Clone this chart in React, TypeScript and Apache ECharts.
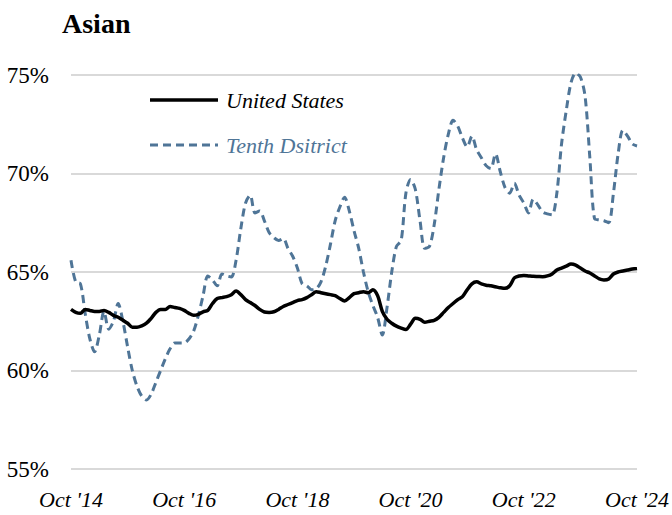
import React, { useEffect, useRef } from "react";
import * as echarts from "echarts";

const startYear = 2014;
const startMonth = 9; // October (0-based)
const tickLabels = ["Oct '14", "Oct '16", "Oct '18", "Oct '20", "Oct '22", "Oct '24"];

const unitedStates = [
  63.1, 62.95, 62.9, 63.1, 63.05, 63.0, 63.0, 63.05, 62.95, 62.8,
  62.7, 62.55, 62.4, 62.2, 62.2, 62.27, 62.4, 62.65, 62.95, 63.1,
  63.1, 63.25, 63.2, 63.15, 63.05, 62.9, 62.8, 62.85, 62.98, 63.05,
  63.4, 63.65, 63.7, 63.75, 63.85, 64.03, 63.85, 63.6, 63.45, 63.3,
  63.1, 62.97, 62.95, 62.98, 63.1, 63.25, 63.35, 63.45, 63.55, 63.6,
  63.7, 63.85, 64.0, 63.95, 63.9, 63.85, 63.8, 63.65, 63.53, 63.7,
  63.9, 63.95, 64.0, 63.95, 64.1, 63.8, 63.0, 62.6, 62.4, 62.25,
  62.15, 62.08, 62.35, 62.65, 62.6, 62.45, 62.5, 62.55, 62.7, 62.95,
  63.2, 63.4, 63.6, 63.75, 64.1, 64.4, 64.5, 64.4, 64.33, 64.3,
  64.25, 64.2, 64.17, 64.3, 64.7, 64.8, 64.82, 64.8, 64.78, 64.77,
  64.76, 64.8, 64.9, 65.1, 65.2, 65.3, 65.4, 65.35, 65.2, 65.05,
  64.95, 64.8, 64.65, 64.6, 64.65, 64.9, 65.0, 65.05, 65.1, 65.15,
  65.18,
];

const tenthDistrict = [
  65.6, 64.5, 64.4, 62.9, 61.6, 60.95, 61.8, 63.0, 62.1, 62.5,
  63.4, 62.5, 61.2, 60.0, 59.2, 58.7, 58.5, 58.8, 59.4, 60.0,
  60.6, 61.1, 61.4, 61.4, 61.4, 61.6, 62.0, 62.8, 63.8, 64.8,
  64.6, 64.3, 64.9, 64.8, 64.75, 65.6, 67.2, 68.5, 68.9, 68.0,
  68.1, 67.6, 67.0, 66.75, 66.6, 66.7, 66.2, 65.8, 65.2, 64.4,
  64.3, 64.1, 64.15, 64.5, 65.3, 66.4, 67.6, 68.3, 68.8, 68.1,
  67.1, 66.2, 65.0, 64.0, 63.3, 62.7, 61.8, 63.2, 65.0, 66.3,
  66.6, 69.0, 69.7, 69.2, 67.6, 66.2, 66.3, 67.4, 69.2, 70.8,
  72.0, 72.7, 72.4, 71.8, 71.35, 71.9, 71.2, 70.8, 70.4, 70.25,
  71.0, 70.1, 69.3, 69.0, 69.5, 68.9, 68.5, 68.0, 68.7, 68.4,
  68.05, 67.95, 67.9, 69.0, 71.5, 73.2, 74.6, 75.1, 74.9, 73.9,
  70.8, 67.7, 67.65, 67.6, 67.5, 69.0, 71.0, 72.2, 71.9, 71.5,
  71.4,
];

const monthNames = ["Jan", "Feb", "Mar", "Apr", "May", "Jun", "Jul", "Aug", "Sep", "Oct", "Nov", "Dec"];
const categories = unitedStates.map((_, i) => {
  const t = startMonth + i;
  const y = startYear + Math.floor(t / 12);
  return `${monthNames[t % 12]} '${String(y % 100).padStart(2, "0")}`;
});

const SERIF = "'Liberation Serif', 'DejaVu Serif', serif";
const BLACK = "#000000";
const BLUE = "#4f7597";

export default function App() {
  const ref = useRef<HTMLDivElement>(null);
  useEffect(() => {
    if (!ref.current) return;
    const chart = echarts.init(ref.current, null, { renderer: "svg" });
    chart.setOption({
      animation: false,
      backgroundColor: "#ffffff",
      title: {
        text: "Asian",
        left: 57,
        top: 4,
        textStyle: { fontFamily: SERIF, fontSize: 28, fontWeight: "bold", color: "#000" },
      },
      grid: { left: 71, right: 31, top: 75, bottom: 46, containLabel: false },
      xAxis: {
        type: "category",
        data: categories,
        boundaryGap: false,
        axisLine: { show: false },
        axisTick: { show: false },
        splitLine: { show: false },
        axisLabel: {
          interval: 23,
          margin: 19,
          fontFamily: SERIF,
          fontStyle: "italic",
          fontSize: 22,
          color: "#000",
          formatter: (v: string) => (tickLabels.includes(v) ? v : ""),
        },
      },
      yAxis: {
        type: "value",
        min: 55,
        max: 75,
        interval: 5,
        axisLine: { show: false },
        axisTick: { show: false },
        splitLine: { lineStyle: { color: "#d9d9d9", width: 2 } },
        axisLabel: {
          margin: 22,
          fontFamily: SERIF,
          fontSize: 23,
          color: "#000",
          formatter: (v: number) => `${v}%`,
        },
      },
      series: [
        {
          name: "United States",
          type: "line",
          data: unitedStates,
          showSymbol: false,
          smooth: 0.3,
          lineStyle: { color: BLACK, width: 3.5 },
          z: 3,
        },
        {
          name: "Tenth Dsitrict",
          type: "line",
          data: tenthDistrict,
          showSymbol: false,
          smooth: 0.3,
          lineStyle: { color: BLUE, width: 3, type: [8, 5] },
          z: 2,
        },
      ],
      graphic: [
        {
          type: "line",
          shape: { x1: 150, y1: 100, x2: 218, y2: 100 },
          style: { stroke: BLACK, lineWidth: 3.5 },
        },
        {
          type: "text",
          x: 226,
          y: 100,
          style: {
            text: "United States",
            fontFamily: SERIF,
            fontStyle: "italic",
            fontSize: 22,
            fill: "#000",
            verticalAlign: "middle",
          },
        },
        {
          type: "line",
          shape: { x1: 150, y1: 145, x2: 218, y2: 145 },
          style: { stroke: BLUE, lineWidth: 3, lineDash: [8, 5] },
        },
        {
          type: "text",
          x: 226,
          y: 145,
          style: {
            text: "Tenth Dsitrict",
            fontFamily: SERIF,
            fontStyle: "italic",
            fontSize: 22,
            fill: BLUE,
            verticalAlign: "middle",
          },
        },
      ],
    });
    return () => chart.dispose();
  }, []);
  return <div ref={ref} style={{ width: 672, height: 515, position: "fixed", left: 0, top: 0 }} />;
}
